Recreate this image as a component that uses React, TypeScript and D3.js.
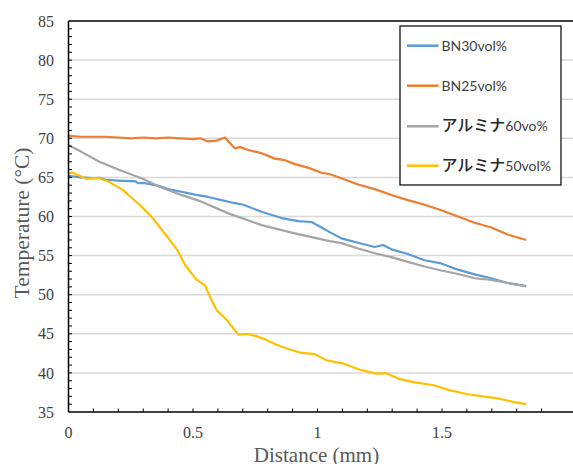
import React from 'react';
import * as d3 from 'd3';

const xTickLabels = [0, 0.5, 1, 1.5];
const yTickValues = [35, 40, 45, 50, 55, 60, 65, 70, 75, 80, 85];
const seriesNames = ['BN30vol%', 'BN25vol%', 'アルミナ60vo%', 'アルミナ50vol%'];
const seriesColors = ['#5B9BD5', '#ED7D31', '#A5A5A5', '#FFC000'];

const bn30: [number, number][] = [
  [0, 65.2], [0.05, 65.0], [0.1, 64.9], [0.124, 64.95], [0.15, 64.7], [0.2, 64.6], [0.27, 64.5], [0.28, 64.25],
  [0.3, 64.3], [0.365, 63.9], [0.4, 63.5], [0.45, 63.2], [0.508, 62.8], [0.561, 62.5], [0.615, 62.1],
  [0.668, 61.7], [0.702, 61.5], [0.775, 60.6], [0.856, 59.8], [0.922, 59.4], [0.976, 59.3], [1.016, 58.6],
  [1.049, 58.0], [1.096, 57.2], [1.163, 56.65], [1.23, 56.1], [1.263, 56.35], [1.297, 55.8], [1.363, 55.2],
  [1.43, 54.4], [1.497, 54.0], [1.564, 53.2], [1.631, 52.6], [1.698, 52.1], [1.764, 51.5], [1.838, 51.1],
];
const bn25: [number, number][] = [
  [0, 70.3], [0.05, 70.2], [0.1, 70.2], [0.15, 70.2], [0.2, 70.1], [0.25, 70.0], [0.3, 70.1], [0.35, 70.0],
  [0.4, 70.1], [0.45, 70.0], [0.5, 69.9], [0.528, 70.0], [0.561, 69.6], [0.595, 69.7], [0.628, 70.1],
  [0.668, 68.7], [0.688, 68.9], [0.722, 68.5], [0.775, 68.1], [0.829, 67.4], [0.869, 67.2], [0.909, 66.7],
  [0.962, 66.25], [1.016, 65.6], [1.05, 65.4], [1.096, 64.9], [1.163, 64.1], [1.23, 63.5], [1.297, 62.75],
  [1.363, 62.1], [1.43, 61.5], [1.497, 60.8], [1.564, 60.0], [1.631, 59.2], [1.698, 58.6], [1.764, 57.7],
  [1.838, 57.0],
];
const alumina60: [number, number][] = [
  [0, 69.1], [0.05, 68.3], [0.124, 67.0], [0.2, 66.0], [0.258, 65.3], [0.3, 64.8], [0.365, 63.8],
  [0.45, 62.8], [0.525, 62.0], [0.642, 60.4], [0.775, 58.9], [0.909, 57.85], [1.049, 56.85], [1.096, 56.6],
  [1.163, 55.9], [1.23, 55.3], [1.297, 54.8], [1.363, 54.2], [1.43, 53.6], [1.497, 53.1], [1.564, 52.65],
  [1.631, 52.1], [1.698, 51.9], [1.764, 51.5], [1.838, 51.1],
];
const alumina50: [number, number][] = [
  [0, 65.5], [0.018, 65.6], [0.045, 65.2], [0.071, 64.8], [0.1, 64.9], [0.124, 64.9], [0.164, 64.4],
  [0.218, 63.4], [0.285, 61.5], [0.338, 59.8], [0.392, 57.6], [0.435, 55.8], [0.468, 53.8], [0.515, 51.9],
  [0.548, 51.2], [0.568, 49.75], [0.595, 48.0], [0.635, 46.8], [0.682, 44.9], [0.715, 45.0], [0.755, 44.7],
  [0.789, 44.3], [0.835, 43.6], [0.889, 43.0], [0.929, 42.6], [0.989, 42.4], [1.036, 41.6], [1.103, 41.2],
  [1.17, 40.4], [1.237, 39.9], [1.277, 39.95], [1.33, 39.2], [1.397, 38.75], [1.463, 38.45], [1.53, 37.8],
  [1.597, 37.3], [1.664, 37.0], [1.731, 36.7], [1.784, 36.3], [1.838, 36.0],
];
const seriesData = [bn30, bn25, alumina60, alumina50];

const W = 573;
const H = 464;
const left = 68.5;
const top = 21;
const bottom = 412;
const right = 573;

export default function App() {
  const x = d3.scaleLinear().domain([0, 0.5]).range([left, 193]);
  const y = d3.scaleLinear().domain([35, 85]).range([bottom, top]);
  const line = d3.line<[number, number]>().x((d) => x(d[0])).y((d) => y(d[1]));
  const xMinor = d3.range(1, 20).map((i) => i / 10);
  const yMinor = d3.range(36, 85);
  const legendX = 400;
  const legendY = 26;
  const legendW = 161;
  const legendH = 159;
  const rowYs = [45.7, 85.7, 126.3, 165.7];

  return (
    <svg width={W} height={H} style={{ position: 'absolute', left: 0, top: 0 }}>
      <rect x={0} y={0} width={W} height={H} fill="#fff" />
      {yTickValues.filter((v) => v !== 35 && v !== 85).map((v) => (
        <line key={'g' + v} x1={left} x2={right} y1={y(v)} y2={y(v)} stroke="#d9d9d9" strokeWidth={1.5} />
      ))}
      {seriesData.map((d, i) => (
        <path key={'s' + i} d={line(d) || ''} fill="none" stroke={seriesColors[i]} strokeWidth={2.2} strokeLinejoin="round" />
      ))}
      {/* frame */}
      <line x1={left} x2={right} y1={top} y2={top} stroke="#000" strokeWidth={1.3} />
      <line x1={left} x2={right} y1={bottom} y2={bottom} stroke="#000" strokeWidth={1.5} />
      <line x1={left} x2={left} y1={top} y2={bottom} stroke="#000" strokeWidth={1.5} />
      {yMinor.map((v) => (
        <line key={'ym' + v} x1={left} x2={left + 3.5} y1={y(v)} y2={y(v)} stroke="#000" strokeWidth={1} />
      ))}
      {xMinor.map((v) => (
        <line key={'xm' + v} x1={x(v)} x2={x(v)} y1={bottom} y2={bottom - 3.5} stroke="#000" strokeWidth={1} />
      ))}
      {yTickValues.map((v) => (
        <text key={'yl' + v} x={54} y={y(v)} dy="0.35em" textAnchor="end" fontFamily="'Liberation Serif', 'Times New Roman', serif" fontSize={16} fill="#404040">
          {v}
        </text>
      ))}
      {xTickLabels.map((v) => (
        <text key={'xl' + v} x={x(v)} y={438} textAnchor="middle" fontFamily="'Liberation Serif', 'Times New Roman', serif" fontSize={16} fill="#404040">
          {v}
        </text>
      ))}
      <text x={316.5} y={462} textAnchor="middle" fontFamily="'Liberation Serif', 'Times New Roman', serif" fontSize={21} fill="#595959">
        Distance (mm)
      </text>
      <text transform={`translate(29,223) rotate(-90)`} textAnchor="middle" fontFamily="'Liberation Serif', 'Times New Roman', serif" fontSize={21.5} fill="#595959">
        Temperature (°C)
      </text>
      {/* legend */}
      <rect x={legendX} y={legendY} width={legendW} height={legendH} fill="#fff" stroke="#000" strokeWidth={1.2} />
      {seriesNames.map((name, i) => {
        const m = name.match(/^([^\x00-\x7F]*)(.*)$/) || ['', '', name];
        const ja = m[1];
        const lat = m[2];
        return (
          <g key={'lg' + i}>
            <line x1={407} x2={438.5} y1={rowYs[i]} y2={rowYs[i]} stroke={seriesColors[i]} strokeWidth={2.5} />
            <text x={441.5} y={rowYs[i] + 5}>
              {ja && (
                <tspan fontFamily="'Noto Sans CJK JP', sans-serif" fontSize={16} fontWeight={500} fill="#262626">
                  {ja}
                </tspan>
              )}
              <tspan fontFamily="Lato, 'Noto Sans', sans-serif" fontSize={14} fill="#404040">
                {lat}
              </tspan>
            </text>
          </g>
        );
      })}
    </svg>
  );
}
